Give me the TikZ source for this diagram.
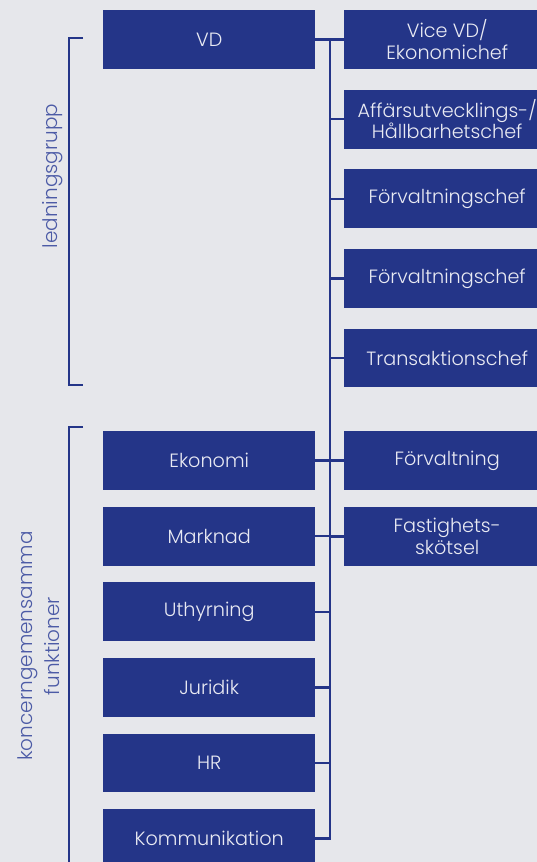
\documentclass[tikz,border=0pt]{standalone}
\usepackage{fontspec}
\setmainfont{Poppins}[UprightFont=* Light]
\usetikzlibrary{positioning}
\definecolor{bg}{HTML}{E6E7EB}
\definecolor{navy}{HTML}{243588}
\definecolor{ink}{HTML}{E9EAF3}
\definecolor{lbl}{HTML}{4C5BA6}
\tikzset{
  unit/.style={fill=navy,text=ink,minimum width=212pt,minimum height=58.7pt,inner sep=0pt,
    align=center,anchor=north west,font=\fontsize{19.2}{21.5}\selectfont},
  link/.style={navy,line width=2.3pt},
  grp/.style={lbl,rotate=90,align=center,font=\fontsize{20}{27}\selectfont}
}
\begin{document}
\begin{tikzpicture}[x=1pt,y=-1pt]
  \fill[bg] (0,0) rectangle (537,862);
  \useasboundingbox (0,0) rectangle (537,862);
  % left column
  \node[unit] (vd) at (103,10) {VD};
  \foreach \t [count=\i from 0] in {Ekonomi,Marknad,Uthyrning,Juridik,HR,Kommunikation}
    \node[unit] (f\i) at (103,431+75.6*\i) {\t};
  % right column
  \foreach \t [count=\i from 0] in {{Vice VD/\\Ekonomichef},{Affärsutvecklings-/\\Hållbarhetschef},
      Förvaltningschef,Förvaltningschef,Transaktionschef}
    \node[unit,minimum width=206pt] (c\i) at (344,10+79.6*\i) {\t};
  \node[unit,minimum width=206pt] (forv) at (344,431) {Förvaltning};
  \node[unit,minimum width=206pt] (fast) at (344,507) {Fastighets-\\skötsel};
  % trunk and branches
  \coordinate (trunk) at (330,0);
  \draw[link] (vd.east) -- (c0.west);
  \draw[link] (vd.east -| trunk) |- (f5.east);
  \foreach \n in {c1,c2,c3,c4,forv,fast}
    \draw[link] (\n.west) -- (\n.west -| trunk);
  \foreach \n in {f0,f1,f2,f3,f4}
    \draw[link] (\n.east) -- (\n.east -| trunk);
  % group brackets
  \draw[link] (83,38) -- (69,38) -- (69,385) -- (83,385);
  \draw[link] (83,427) -- (69,427) -- (69,870);
  \node[grp] (lg) at (53,176) {ledningsgrupp};
  \node[grp] (kf) at (39,646) {koncerngemensamma\\funktioner};
\end{tikzpicture}
\end{document}
